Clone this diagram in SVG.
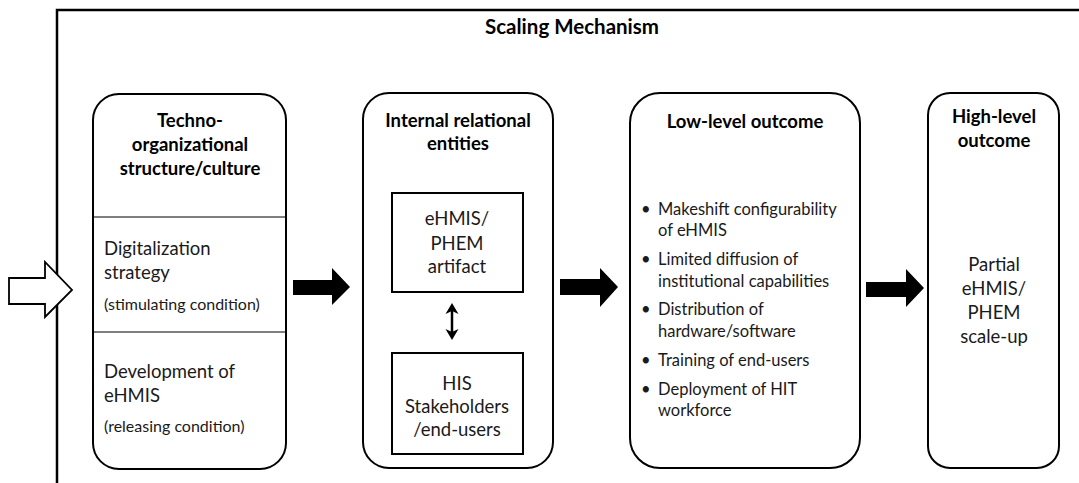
<svg xmlns="http://www.w3.org/2000/svg" width="1079" height="483" viewBox="0 0 1079 483">
  <style>
    .frame { fill: none; stroke: #000; stroke-width: 2.5; }
    .box { fill: #fff; stroke: #000; stroke-width: 2; }
    .inner { fill: #fff; stroke: #000; stroke-width: 2; }
    .div { stroke: #000; stroke-width: 1.2; }
    .title { font-family: Lato, "Liberation Sans", sans-serif; font-weight: bold; font-size: 18.5px; fill: #000; text-anchor: middle; }
    .head { font-size: 20.5px; }
    .body { font-family: Lato, "Liberation Sans", sans-serif; font-size: 18.5px; fill: #1a1a1a; }
    .mid { text-anchor: middle; }
    .small { font-family: Lato, "Liberation Sans", sans-serif; font-size: 16px; fill: #1a1a1a; }
    .list { font-family: Lato, "Liberation Sans", sans-serif; font-size: 16.5px; fill: #1a1a1a; }
    .solid { fill: #000; }
  </style>

  <rect width="1079" height="483" fill="#fff"/>

  <!-- outer frame: top and left edges only -->
  <path class="frame" d="M57,483 L57,10 L1079,10"/>
  <text class="title head" x="572" y="34">Scaling Mechanism</text>

  <!-- techno-organizational structure -->
  <g id="structure">
    <rect class="box" x="93" y="94" width="193" height="375" rx="26" ry="26"/>
    <line class="div" x1="93" y1="217" x2="286" y2="217"/>
    <line class="div" x1="93" y1="332" x2="286" y2="332"/>
    <text class="title" x="190" y="127">Techno-</text>
    <text class="title" x="190" y="151">organizational</text>
    <text class="title" x="190" y="175">structure/culture</text>
    <text class="body" x="104" y="255">Digitalization</text>
    <text class="body" x="104" y="279">strategy</text>
    <text class="small" x="104" y="310">(stimulating condition)</text>
    <text class="body" x="104" y="378">Development  of</text>
    <text class="body" x="104" y="402">eHMIS</text>
    <text class="small" x="104" y="432">(releasing condition)</text>
  </g>

  <!-- internal relational entities -->
  <g id="entities">
    <rect class="box" x="363" y="93" width="190" height="375" rx="26" ry="26"/>
    <text class="title" x="458" y="127">Internal relational</text>
    <text class="title" x="458" y="150">entities</text>
    <g id="artifact">
      <rect class="inner" x="392" y="193" width="131" height="99"/>
      <text class="body mid" x="457" y="225">eHMIS/</text>
      <text class="body mid" x="457" y="250">PHEM</text>
      <text class="body mid" x="457" y="273">artifact</text>
    </g>
    <g id="stakeholders">
      <rect class="inner" x="392" y="353" width="131" height="101"/>
      <text class="body mid" x="457" y="390">HIS</text>
      <text class="body mid" x="457" y="413">Stakeholders</text>
      <text class="body mid" x="457" y="436">/end-users</text>
    </g>
  </g>

  <!-- low-level outcome -->
  <g id="low-outcome">
    <rect class="box" x="630" y="93" width="230" height="375" rx="30" ry="30"/>
    <text class="title" x="745" y="128">Low-level outcome</text>
    <g class="list">
      <text x="641" y="215">•</text>
      <text x="658" y="215">Makeshift configurability</text>
      <text x="658" y="236">of eHMIS</text>
      <text x="641" y="265">•</text>
      <text x="658" y="265">Limited diffusion  of</text>
      <text x="658" y="287">institutional capabilities</text>
      <text x="641" y="315">•</text>
      <text x="658" y="315">Distribution of</text>
      <text x="658" y="337">hardware/software</text>
      <text x="641" y="366">•</text>
      <text x="658" y="366">Training of end-users</text>
      <text x="641" y="395">•</text>
      <text x="658" y="395">Deployment of HIT</text>
      <text x="658" y="416">workforce</text>
    </g>
  </g>

  <!-- high-level outcome -->
  <g id="high-outcome">
    <rect class="box" x="928" y="93" width="131" height="375" rx="22" ry="22"/>
    <text class="title" x="994" y="123">High-level</text>
    <text class="title" x="994" y="147">outcome</text>
    <text class="body mid" x="994" y="271">Partial</text>
    <text class="body mid" x="994" y="295">eHMIS/</text>
    <text class="body mid" x="994" y="319">PHEM</text>
    <text class="body mid" x="994" y="343">scale-up</text>
  </g>

  <!-- connectors -->
  <g id="connectors">
    <!-- hollow input arrow -->
    <path d="M9,278 L45,278 L45,262 L72,290 L45,317 L45,304 L9,304 Z" fill="#fff" stroke="#000" stroke-width="1.8"/>
    <!-- block arrows between stages -->
    <path class="solid" d="M293,280 L332,280 L332,268 L350,287 L332,305 L332,295 L293,295 Z"/>
    <path class="solid" d="M560,279 L600,279 L600,268 L618,287 L600,307 L600,295 L560,295 Z"/>
    <path class="solid" d="M866,282 L906,282 L906,269 L924,288 L906,307 L906,297 L866,297 Z"/>
    <!-- two-way link between artifact and stakeholders -->
    <line x1="452" y1="310" x2="452" y2="333" stroke="#000" stroke-width="2.5"/>
    <path class="solid" d="M452,303 L458.5,314 L452,311 L445.5,314 Z"/>
    <path class="solid" d="M452,340 L458.5,329 L452,332 L445.5,329 Z"/>
  </g>
</svg>
